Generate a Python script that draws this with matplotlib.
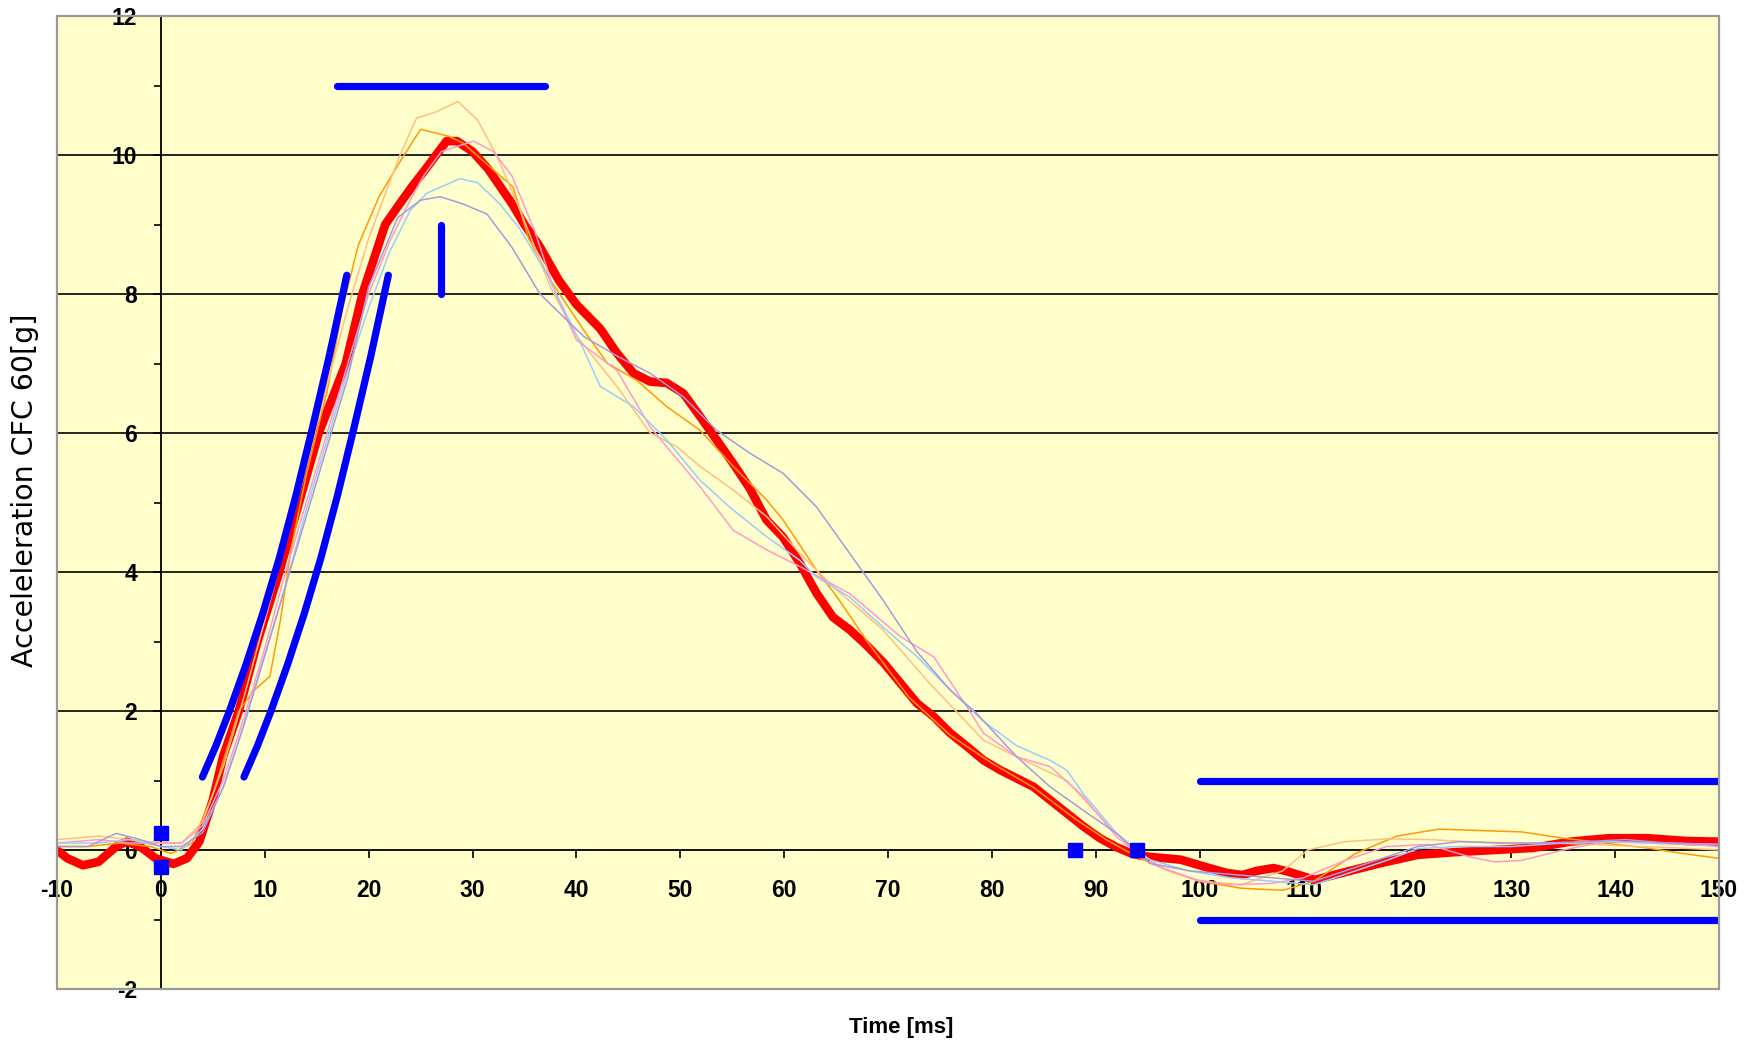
import numpy as np
import matplotlib.pyplot as plt
from matplotlib.patches import Rectangle
from matplotlib.ticker import MultipleLocator

plt.rcParams['font.family'] = ['Liberation Sans', 'DejaVu Sans']
plt.rcParams['axes.unicode_minus'] = False

# time [ms] / acceleration [g]
red_t = np.array([-10, -9, -7.5, -6, -4.3, -3.3, -2, -0.5, 1.2, 2.5, 3.7, 5, 6, 7.5, 9.3, 11.4, 13.3, 15.2, 17.8, 19.4,
                  21.6, 23, 24.2, 25.5, 26.5, 27.5, 28.5, 30, 31.5, 33.8, 35, 36.4, 38.3, 40, 42.3, 43.9, 45.5, 47.1, 48.7, 50.3,
                  51.9, 53.5, 55.1, 56.7, 58.3, 59.9, 61.5, 63.1, 64.7, 66.3, 67.9, 69.6, 71.2, 72.8, 74.4, 76, 77.6, 79.2, 80.8, 82.4,
                  84, 85.6, 87.2, 88.8, 90.4, 92, 93.6, 95.2, 96.8, 98.2, 100, 102.6, 104.1, 105.5, 107.1, 108.5, 110, 111.1, 113.7, 117.4,
                  121, 124.7, 128.4, 132.1, 135.7, 139.4, 143.1, 146.8, 150])
red_g = np.array([0, -0.12, -0.22, -0.17, 0.05, 0.12, 0.05, -0.12, -0.2, -0.12, 0.12, 0.72, 1.35, 2.0, 3.0, 4.0, 5.0, 6.0, 7.0, 8.0,
                  9.0, 9.3, 9.55, 9.8, 10.0, 10.2, 10.2, 10.05, 9.8, 9.3, 9.0, 8.7, 8.2, 7.85, 7.5, 7.15, 6.86, 6.74, 6.72, 6.57,
                  6.24, 5.9, 5.56, 5.2, 4.75, 4.5, 4.13, 3.7, 3.35, 3.17, 2.95, 2.69, 2.4, 2.11, 1.92, 1.68, 1.49, 1.29, 1.15, 1.03,
                  0.91, 0.72, 0.53, 0.34, 0.17, 0.04, -0.06, -0.1, -0.12, -0.14, -0.22, -0.33, -0.36, -0.3, -0.26, -0.31, -0.38, -0.43, -0.33, -0.19,
                  -0.07, -0.03, 0, 0.03, 0.12, 0.17, 0.17, 0.13, 0.12])

orange_t = [-10, -7, -4, -1, 1, 3, 5, 7.5, 9, 10.5, 11.5, 12.5, 14, 16, 17.5, 19, 21, 23, 25, 27.7,
            29.1, 32.2, 33.9, 35.4, 37.5, 40.7, 43, 45.8, 48.7, 51.9, 55.1, 58.3, 59.9, 63.1, 65.1, 68, 72, 76, 80, 84,
            88, 91, 94, 97, 100, 104, 108, 111, 115, 119, 123, 127, 131, 135, 139, 143, 147, 150]
orange_g = [0.05, 0.05, 0.1, 0.05, -0.05, 0.1, 0.8, 2.0, 2.3, 2.5, 3.3, 4.3, 5.4, 6.6, 7.8, 8.7, 9.4, 9.9, 10.37, 10.27,
            10.17, 9.76, 9.54, 8.8, 8.2, 7.48, 7.0, 6.76, 6.38, 6.04, 5.52, 5.04, 4.75, 4.03, 3.64, 3.0, 2.2, 1.65, 1.25, 0.9,
            0.45, 0.15, -0.1, -0.3, -0.45, -0.55, -0.58, -0.45, -0.05, 0.2, 0.3, 0.28, 0.26, 0.17, 0.1, 0.03, -0.06, -0.12]

peach_t = [-10, -6, -3, 0, 2, 4, 6, 8, 10, 12, 14, 16, 18, 20, 22, 23, 24.6, 26.5, 28.6, 30.5,
           32.3, 34.6, 37.5, 40, 43.9, 47.1, 49.7, 51.9, 55.1, 58.3, 61.5, 64.7, 69.5, 74, 79.2, 82.4, 87.2, 90.4, 93.6, 96.8,
           100, 104, 108, 110.4, 114, 118, 122, 126, 130, 134, 138, 142, 146, 150]
peach_g = [0.15, 0.2, 0.15, 0.1, 0.1, 0.4, 1.2, 2.2, 3.3, 4.4, 5.5, 6.7, 7.8, 8.8, 9.6, 9.99, 10.53, 10.62, 10.77, 10.5,
           10.0, 9.2, 8.1, 7.4, 6.67, 6.0, 5.8, 5.52, 5.18, 4.8, 4.27, 3.79, 3.17, 2.4, 1.58, 1.34, 1.0, 0.48, 0.0, -0.29,
           -0.45, -0.5, -0.3, 0.0, 0.12, 0.16, 0.15, 0.12, 0.1, 0.1, 0.08, 0.05, 0.03, 0.0]

pink_t = [-10, -6, -3, 0, 2, 4, 6, 8, 10, 12, 14, 16, 18, 20, 22.1, 24, 25.3, 27, 30.1, 32,
          33.8, 36, 38, 40, 43.9, 47.1, 48.7, 51.9, 55.1, 58.3, 61.5, 66.3, 71.2, 74.4, 77.6, 79.2, 82.4, 85.6, 88.8, 92,
          95.2, 99.7, 103, 107, 110, 114, 118, 122, 126, 128.4, 131, 135, 139, 143, 147, 150]
pink_g = [0.1, 0.15, 0.1, 0.1, 0.1, 0.35, 1.0, 1.9, 2.9, 4.0, 5.0, 6.0, 7.0, 8.0, 8.78, 9.35, 9.7, 10.05, 10.2, 10.05,
          9.7, 8.9, 8.0, 7.34, 6.9, 6.09, 5.8, 5.23, 4.6, 4.32, 4.08, 3.69, 3.07, 2.78, 2.06, 1.68, 1.34, 1.2, 0.77, 0.19,
          -0.19, -0.43, -0.5, -0.48, -0.4, -0.15, 0.05, 0.08, -0.1, -0.17, -0.15, 0.0, 0.12, 0.1, 0.08, 0.05]

ltblue_t = [-10, -6, -3, 0, 2, 4, 6, 8, 10, 12, 14, 16, 18, 20, 22, 24, 25.6, 28.8, 30.5, 32.6,
            34.5, 37.1, 40.7, 42.3, 45.5, 48.7, 51.9, 55.1, 58.3, 61.5, 63.1, 66.3, 69.5, 72.8, 76, 79.2, 82.4, 85.6, 87.2, 88.8,
            92, 95.2, 99, 103, 107, 111, 114, 118, 121, 125, 130, 135, 140, 145, 150]
ltblue_g = [0.1, 0.1, 0.15, 0.05, 0.0, 0.3, 0.9, 1.8, 2.8, 3.8, 4.9, 5.9, 6.9, 7.8, 8.6, 9.2, 9.45, 9.66, 9.6, 9.3,
            8.95, 8.3, 7.2, 6.67, 6.38, 5.9, 5.32, 4.89, 4.51, 4.17, 3.93, 3.64, 3.21, 2.78, 2.3, 1.85, 1.5, 1.29, 1.15, 0.81,
            0.24, -0.14, -0.3, -0.4, -0.45, -0.5, -0.35, -0.15, 0.02, 0.05, 0.05, 0.1, 0.12, 0.1, 0.08]

lav_t = [-10, -7, -4.3, -2, 0, 2, 4, 6, 8, 10, 12, 14, 16, 18, 20, 22.8, 25, 26.9, 29, 31.4,
         33.8, 36.5, 40.7, 44, 47.1, 50.3, 53.5, 56.7, 59.9, 63.1, 66.3, 69.5, 72.8, 76, 78.5, 82.4, 85.6, 88.8, 92, 95.2,
         99, 103, 107, 111, 114, 118, 121, 125, 129, 133, 137, 141, 145, 150]
lav_g = [0.05, 0.05, 0.24, 0.15, 0.05, 0.05, 0.25, 0.9, 1.8, 2.8, 3.8, 4.8, 5.8, 6.8, 8.1, 9.1, 9.35, 9.4, 9.3, 9.15,
         8.67, 8.0, 7.39, 7.1, 6.86, 6.52, 6.04, 5.71, 5.42, 4.94, 4.27, 3.6, 2.85, 2.3, 1.97, 1.34, 0.91, 0.57, 0.24, -0.19,
         -0.3, -0.35, -0.4, -0.45, -0.3, -0.1, 0.05, 0.12, 0.1, 0.1, 0.12, 0.15, 0.1, 0.08]

# corridor limits (blue)
rise_early_t = [4.0, 5.3, 6.6, 8.2, 9.8, 11.4, 13.0, 14.6, 16.2, 17.9]
rise_early_g = [1.05, 1.5, 2.0, 2.67, 3.4, 4.2, 5.1, 6.08, 7.1, 8.27]
rise_late_t = [8.0, 9.3, 10.6, 12.2, 13.8, 15.4, 17.0, 18.6, 20.2, 21.9]
rise_late_g = [1.05, 1.5, 2.0, 2.67, 3.4, 4.2, 5.1, 6.08, 7.1, 8.27]
peak_band_t = [17, 37]
peak_band_g = [11, 11]
peak_min_t = [27, 27]
peak_min_g = [8, 9]
tail_t = [100, 150]
tail_hi = [1, 1]
tail_lo = [-1, -1]
mark_t = [0, 0, 88, 94]
mark_g = [0.25, -0.25, 0, 0]

fig = plt.figure(figsize=(17.6, 10.43), dpi=100)
ax = fig.add_axes([57 / 1760, 1 - 989 / 1043, 1662 / 1760, 973 / 1043])
ax.set_facecolor('#FFFFCC')
ax.set_xlim(-10, 150)
ax.set_ylim(-2, 12)

ax.spines['top'].set_visible(False)
ax.spines['right'].set_visible(False)
ax.spines['left'].set_position(('data', 0))
ax.spines['bottom'].set_position(('data', 0))
for s in ['left', 'bottom']:
    ax.spines[s].set_linewidth(1.3)
    ax.spines[s].set_color('black')
ax.add_patch(Rectangle((0, 0), 1, 1, transform=ax.transAxes, fill=False,
                       edgecolor='#9a9a9a', lw=1.6, zorder=6, clip_on=False))

ax.set_xticks(np.arange(-10, 151, 10))
ax.set_yticks(np.arange(-2, 13, 2))
ax.yaxis.set_minor_locator(MultipleLocator(1))
ax.tick_params(axis='y', which='major', direction='out', length=6, width=1.2, pad=11, labelsize=16.5)
ax.tick_params(axis='y', which='minor', direction='out', length=5, width=1.2)
ax.tick_params(axis='x', which='major', direction='out', length=6, width=1.2, pad=15, labelsize=16.5)
for lab in ax.get_xticklabels() + ax.get_yticklabels():
    lab.set_fontweight('bold')

ax.yaxis.grid(True, color='black', lw=1.2)
for line, val in zip(ax.yaxis.get_gridlines(), ax.get_yticks()):
    if val in (-2, 0, 12):
        line.set_visible(False)

ax.plot(red_t, red_g, color='#FF0000', lw=6.2, solid_joinstyle='round', zorder=3)
thin = [(orange_t, orange_g, '#FF9A00'), (peach_t, peach_g, '#FFBF80'),
        (pink_t, pink_g, '#FF99CC'), (ltblue_t, ltblue_g, '#99CCFF'),
        (lav_t, lav_g, '#A899E0')]
for t, g, c in thin:
    ax.plot(t, g, color=c, lw=1.1, zorder=3.5)

blue = '#0000FF'
for t, g in [(rise_early_t, rise_early_g), (rise_late_t, rise_late_g), (peak_band_t, peak_band_g),
             (peak_min_t, peak_min_g), (tail_t, tail_hi), (tail_t, tail_lo)]:
    ax.plot(t, g, color=blue, lw=5.2, solid_capstyle='round', zorder=4)
ax.plot(mark_t, mark_g, 's', color=blue, ms=10, zorder=5)

fig.text(0.512, 0.0153, 'Time [ms]', ha='center', va='center', fontsize=16, fontweight='bold')
fig.text(0.0142, 0.5295, 'Acceleleration CFC 60[g]', rotation=90, ha='center', va='center',
         fontsize=20.5, family='DejaVu Sans')

fig.savefig('out.png', dpi=100)
